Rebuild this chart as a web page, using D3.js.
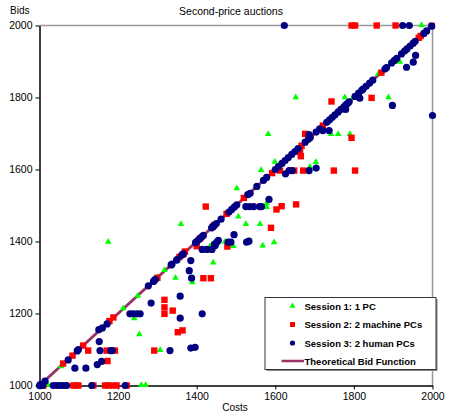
<!DOCTYPE html>
<html lang="en">
  <head>
    <title>Second-price auctions</title>
    <meta charset="utf-8">
    <style>
      body { margin: 0; background: #fff; }
      text { font-family: Arial, "Liberation Sans", sans-serif; }
    </style>
  </head>
  <body>
<svg width="449" height="415"></svg>
<script src="https://d3js.org/d3.v7.min.js"></script>
<script>

// [cost, bid] pairs
var session1 = [
  [1055,1052],[1150,1152],[1213,1213],[1250,1248],[1300,1300],[1318,1319],[1797,1797],[1862,1864],[1995,1998],
  [1175,1398],[1360,1447],[1442,1340],[1434,1386],[1346,1298],[1389,1285],[1241,1185],[1254,1141],[1307,1097],
  [1506,1468],[1525,1447],[1561,1447],[1578,1505],[1578,1494],[1493,1386],[1472,1398],[1568,1387],[1597,1396],
  [1652,1799],[1777,1799],[1888,1799],[1917,1898],[1582,1697],[1742,1697],[1760,1697],[1790,1697],
  [1599,1620],[1564,1597],[1688,1606],[1703,1619],[1502,1546],[1972,2000],
  [1022,1000],[1177,1000],[1259,1000],[1270,1000]
];

var session2 = [
  [1060,1061],[1084,1083],[1111,1111],[1178,1179],[1188,1189],[1300,1299],[1356,1357],[1366,1365],[1370,1372],
  [1409,1409],[1441,1441],[1445,1446],[1476,1477],[1520,1521],[1592,1590],[1667,1666],[1721,1722],[1870,1869],
  [1965,1966],[1970,1971],[1998,1999],
  [1423,1497],[1417,1298],[1436,1298],[1318,1238],[1318,1217],[1318,1199],[1339,1208],[1352,1148],[1364,1153],
  [1292,1097],[1171,1097],[1192,1097],[1124,1097],[1173,1068],[1400,1387],[1478,1386],[1589,1438],[1603,1489],
  [1616,1498],[1653,1503],[1743,1789],[1845,1799],[1676,1699],[1794,1688],[1663,1648],[1665,1637],[1612,1597],
  [1648,1597],[1671,1597],[1749,1597],[1803,1597],
  [1794,2000],[1803,2000],[1858,2000],[1906,2000],
  [1003,1000],[1010,1000],[1086,1000],[1093,1000],[1099,1000],[1137,1000],[1167,1000],[1175,1000],[1188,1000],
  [1196,1000],[1222,1000]
];

var session3 = [
  [1003,1003],[1014,1012],[1073,1071],[1096,1096],[1099,1100],[1151,1155],[1160,1160],[1172,1171],[1277,1277],
  [1290,1289],[1292,1292],[1295,1295],[1335,1335],[1337,1337],[1349,1348],[1350,1350],[1362,1362],[1366,1366],
  [1397,1397],[1400,1400],[1404,1404],[1407,1407],[1413,1413],[1417,1417],[1438,1438],[1440,1440],[1444,1444],
  [1450,1450],[1462,1462],[1482,1482],[1489,1489],[1496,1496],[1502,1502],[1530,1530],[1536,1534],[1553,1553],
  [1570,1570],[1578,1578],[1600,1600],[1608,1608],[1617,1617],[1625,1625],[1633,1633],[1642,1642],[1650,1650],
  [1658,1658],[1676,1676],[1684,1684],[1689,1689],[1704,1704],[1713,1713],[1731,1731],[1738,1738],[1745,1745],
  [1752,1752],[1760,1760],[1767,1767],[1775,1775],[1780,1780],[1784,1784],[1788,1788],[1803,1803],[1812,1812],
  [1820,1820],[1823,1823],[1831,1831],[1840,1840],[1848,1848],[1879,1879],[1883,1883],[1896,1896],[1903,1903],
  [1909,1909],[1921,1921],[1929,1929],[1935,1935],[1943,1943],[1951,1951],[1956,1956],[1978,1978],[1985,1985],
  [1998,1998],
  [1414,1378],[1426,1378],[1439,1378],[1445,1392],[1455,1403],[1385,1347],[1381,1319],[1387,1298],[1358,1248],
  [1358,1187],[1284,1229],[1230,1199],[1238,1199],[1248,1199],[1256,1199],[1414,1199],[1332,1097],[1385,1104],
  [1396,1106],[1154,1097],[1181,1097],[1185,1097],[1152,1122],[1147,1058],[1158,1067],[1090,1048],[1118,1048],
  [1495,1419],[1480,1398],[1487,1398],[1451,1398],[1447,1389],[1527,1398],[1533,1401],[1898,1778],[1815,1798],
  [1779,1767],[1686,1697],[1721,1708],[1737,1708],[1686,1597],[1704,1604],[1626,1588],[1635,1597],[1643,1597],
  [1584,1517],[1525,1497],[1535,1497],[1545,1497],[1560,1497],[1565,1497],[2000,1750],[1957,1917],[1951,1898],
  [1934,1884],[1623,2000],[1924,2000],[1941,2000],
  [1000,1000],[1004,1000],[1008,1000],[1035,1000],[1044,1000],[1052,1000],[1061,1000],[1069,1000],[1133,1000],
  [1218,1000]
];

var theory = [[1000,1000],[2000,2000]];
var ticks = [1000,1200,1400,1600,1800,2000];

var svg = d3.select("svg");

var x = d3.scaleLinear().domain([1000,2000]).range([39.5,432.5]),
    y = d3.scaleLinear().domain([1000,2000]).range([385.5,25.5]);

// frame top / right in grey
svg.append("path")
    .attr("d", "M" + x(1000) + "," + y(2000) + "H" + x(2000) + "V" + y(1000))
    .attr("fill", "none").attr("stroke", "#999").attr("stroke-width", 1.5);

var xAxis = svg.append("g")
    .attr("transform", "translate(0," + y(1000) + ")")
    .call(d3.axisBottom(x).tickValues(ticks).tickFormat(d3.format("d")).tickSize(4).tickPadding(3).tickSizeOuter(0));
var yAxis = svg.append("g")
    .attr("transform", "translate(" + x(1000) + ",0)")
    .call(d3.axisLeft(y).tickValues(ticks).tickFormat(d3.format("d")).tickSize(4).tickPadding(3).tickSizeOuter(0));
[xAxis, yAxis].forEach(function(a) {
  a.selectAll("text").attr("font-size", 10.5).attr("fill", "#000").attr("font-family", "Arial, 'Liberation Sans', sans-serif");
  a.select(".domain").attr("stroke", "#000").attr("stroke-width", 1.5);
  a.selectAll(".tick line").attr("stroke", "#000");
});

svg.append("text").attr("x", 231).attr("y", 15).attr("text-anchor", "middle")
    .attr("font-size", 10.5).text("Second-price auctions");
svg.append("text").attr("x", 10).attr("y", 14).attr("font-size", 10).text("Bids");
svg.append("text").attr("x", 235).attr("y", 411).attr("text-anchor", "middle")
    .attr("font-size", 10).text("Costs");

var line = d3.line().x(function(d) { return x(d[0]); }).y(function(d) { return y(d[1]); });
svg.append("path").datum(theory).attr("d", line)
    .attr("fill", "none").attr("stroke", "#993366").attr("stroke-width", 3);

var tri = d3.symbol().type(d3.symbolTriangle).size(19);
svg.append("g").selectAll("path").data(session1).enter().append("path")
    .attr("d", tri)
    .attr("transform", function(d) { return "translate(" + x(d[0]) + "," + (y(d[1]) - 0.5) + ")"; })
    .attr("fill", "#00ff00");

svg.append("g").selectAll("rect").data(session2).enter().append("rect")
    .attr("x", function(d) { return x(d[0]) - 3.2; })
    .attr("y", function(d) { return y(d[1]) - 3.2; })
    .attr("width", 6.4).attr("height", 6.4)
    .attr("fill", "#ff0000");

svg.append("g").selectAll("circle").data(session3).enter().append("circle")
    .attr("cx", function(d) { return x(d[0]); })
    .attr("cy", function(d) { return y(d[1]); })
    .attr("r", 3.6)
    .attr("fill", "#000080");

// legend
var lg = svg.append("g").attr("transform", "translate(265,297.5)");
lg.append("rect").attr("x", 1.5).attr("y", 1.5).attr("width", 171).attr("height", 72).attr("fill", "#888");
lg.append("rect").attr("x", 0).attr("y", 0).attr("width", 171).attr("height", 72)
    .attr("fill", "#fff").attr("stroke", "#333").attr("stroke-width", 1);

var items = ["Session 1: 1 PC", "Session 2: 2 machine PCs", "Session 3: 2 human PCs", "Theoretical Bid Function"];
var rowY = [8.5, 27, 45.5, 63.5];
items.forEach(function(t, i) {
  lg.append("text").attr("x", 39.5).attr("y", rowY[i] + 3.5)
      .attr("font-size", 9.5).attr("font-weight", "bold").text(t);
});
lg.append("path").attr("d", d3.symbol().type(d3.symbolTriangle).size(16))
    .attr("transform", "translate(27.5," + rowY[0] + ")").attr("fill", "#00ff00");
lg.append("rect").attr("x", 25).attr("y", rowY[1] - 2.5).attr("width", 5).attr("height", 5).attr("fill", "#ff0000");
lg.append("circle").attr("cx", 27.5).attr("cy", rowY[2]).attr("r", 2.6).attr("fill", "#000080");
lg.append("line").attr("x1", 16.5).attr("x2", 39).attr("y1", rowY[3]).attr("y2", rowY[3])
    .attr("stroke", "#993366").attr("stroke-width", 2.5);

</script>
  </body>
</html>
